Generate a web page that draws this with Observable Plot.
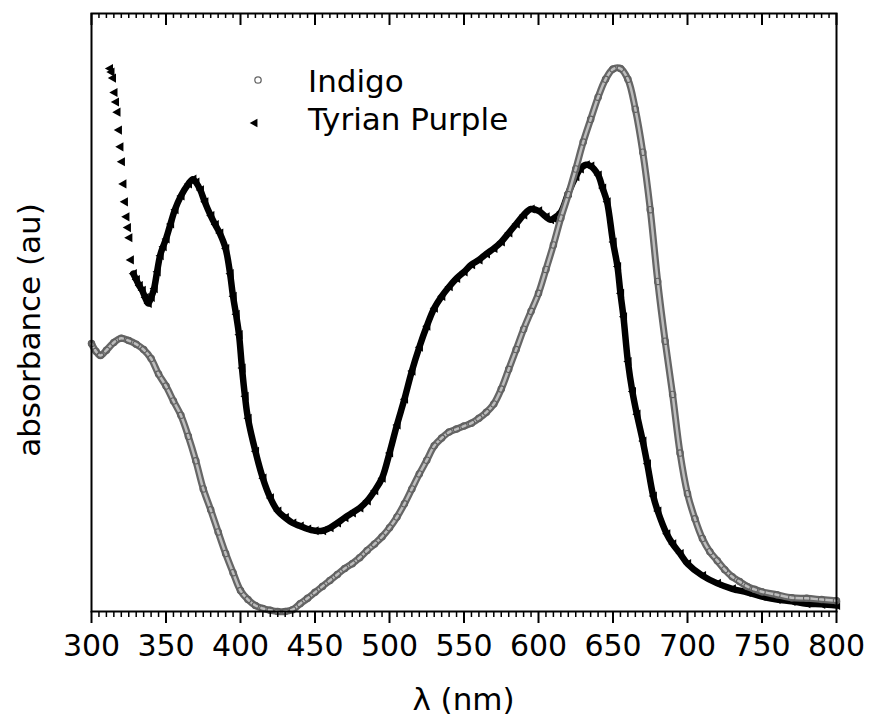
<!DOCTYPE html>
<html><head><meta charset="utf-8">
<script src="https://cdn.jsdelivr.net/npm/d3@7"></script>
<script src="https://cdn.jsdelivr.net/npm/@observablehq/plot@0.6"></script>
<style>body{margin:0;background:#fff}</style>
</head><body><div id="chart"></div>
<script>
// ---- data (absorbance in arbitrary units) ----
const indigoNm = [300,303,306,310,315,320,325,330,335,340,345,350,355,360,365,370,375,380,385,390,395,400,405,410,415,420,425,430,435,440,445,450,455,460,465,470,475,480,485,490,495,500,505,510,515,520,525,530,535,540,545,550,555,560,565,570,575,580,585,590,595,600,605,610,615,620,625,630,635,640,645,650,655,660,665,670,675,680,685,690,695,700,705,710,715,720,725,730,735,740,745,750,760,770,780,790,800];
const indigoAbs = [0.448,0.435,0.428,0.437,0.450,0.457,0.453,0.447,0.438,0.423,0.397,0.377,0.352,0.328,0.293,0.252,0.205,0.170,0.133,0.097,0.065,0.035,0.020,0.010,0.005,0.002,0.000,0.000,0.003,0.013,0.022,0.032,0.042,0.052,0.062,0.072,0.080,0.090,0.102,0.113,0.125,0.140,0.158,0.180,0.205,0.230,0.253,0.277,0.290,0.300,0.305,0.310,0.315,0.323,0.333,0.347,0.372,0.405,0.438,0.472,0.502,0.532,0.572,0.613,0.658,0.697,0.740,0.785,0.823,0.860,0.890,0.907,0.908,0.890,0.840,0.768,0.672,0.552,0.452,0.363,0.265,0.197,0.155,0.122,0.100,0.085,0.070,0.058,0.050,0.042,0.037,0.033,0.028,0.023,0.022,0.020,0.018];

const tyrianNm = [312,313,314,315,316,317,318,319,320,321,322,323,324,325,326,328,330,332,334,336,338,340,342,344,346,348,350,353,356,360,365,368,370,373,376,380,383,386,390,393,395,397,399,401,403,405,410,415,420,425,430,435,440,445,450,455,460,465,470,475,480,485,490,495,500,505,510,515,520,525,530,535,540,545,550,555,560,565,570,575,580,585,590,595,600,605,608,610,615,620,625,628,632,635,640,643,646,650,653,655,657,660,663,666,670,673,677,680,686,690,695,700,710,720,730,740,750,760,770,780,790,800];
const tyrianAbs = [0.908,0.902,0.892,0.868,0.852,0.835,0.805,0.777,0.752,0.715,0.685,0.660,0.642,0.625,0.588,0.565,0.555,0.545,0.537,0.525,0.515,0.525,0.540,0.568,0.595,0.610,0.623,0.648,0.672,0.695,0.715,0.723,0.718,0.705,0.685,0.662,0.647,0.633,0.607,0.565,0.527,0.497,0.463,0.407,0.360,0.323,0.268,0.223,0.190,0.168,0.157,0.148,0.143,0.138,0.135,0.135,0.140,0.148,0.157,0.165,0.173,0.185,0.202,0.223,0.265,0.312,0.355,0.402,0.442,0.477,0.507,0.527,0.543,0.557,0.568,0.580,0.588,0.598,0.607,0.618,0.633,0.648,0.663,0.673,0.670,0.660,0.655,0.657,0.668,0.700,0.727,0.740,0.747,0.745,0.730,0.708,0.685,0.618,0.577,0.532,0.493,0.418,0.368,0.330,0.285,0.247,0.193,0.168,0.130,0.113,0.097,0.080,0.060,0.047,0.038,0.032,0.025,0.020,0.017,0.013,0.012,0.010];

const xTicks = [300,350,400,450,500,550,600,650,700,750,800];
const minorTicks = [305,310,315,320,325,330,335,340,345,355,360,365,370,375,380,385,390,395,405,410,415,420,425,430,435,440,445,455,460,465,470,475,480,485,490,495,505,510,515,520,525,530,535,540,545,555,560,565,570,575,580,585,590,595,605,610,615,620,625,630,635,640,645,655,660,665,670,675,680,685,690,695,705,710,715,720,725,730,735,740,745,755,760,765,770,775,780,785,790,795];
const seriesNames = ["Indigo", "Tyrian Purple"];
const xLabel = "λ (nm)";
const yLabel = "absorbance (au)";

// ---- build tables ----
const indigo = indigoNm.map((x, i) => ({x, y: indigoAbs[i]}));
const tyrian = tyrianNm.map((x, i) => ({x, y: tyrianAbs[i]}));

const triLeft = {draw(ctx, size) {
  const r = Math.sqrt(size / Math.PI) * 1.2;
  ctx.moveTo(-r, 0); ctx.lineTo(r * 0.8, -r); ctx.lineTo(r * 0.8, r); ctx.closePath();
}};

const W = 869, H = 726, mT = 13, mB = 115;
const frameH = H - mT - mB;

const plot = Plot.plot({
  width: W, height: H,
  marginLeft: 91, marginRight: 33, marginTop: mT, marginBottom: mB,
  style: {fontFamily: "DejaVu Sans", fontSize: "30px", background: "#fff", color: "#000", overflow: "visible"},
  x: {domain: [300, 800], ticks: xTicks, tickSize: 0, tickPadding: 23, tickFormat: d => String(d), label: null},
  y: {domain: [0, 1], axis: null},
  marks: [
    Plot.line(tyrian.filter(d => d.x >= 328), {x: "x", y: "y", stroke: "#000", strokeWidth: 6.5, curve: "catmull-rom"}),
    Plot.dot(tyrian, {x: "x", y: "y", r: 3.8, symbol: triLeft, fill: "#000", stroke: "none"}),
    Plot.line(indigo, {x: "x", y: "y", stroke: "#666", strokeWidth: 7, curve: "catmull-rom"}),
    Plot.line(indigo, {x: "x", y: "y", stroke: "#bdbdbd", strokeWidth: 2.5, curve: "catmull-rom"}),
    Plot.dot(indigo, {x: "x", y: "y", r: 3.2, stroke: "#606060", strokeWidth: 1.1, fill: "none"}),
    // bottom ticks (outward) and top ticks (inward)
    Plot.tickX(xTicks, {x: d => d, stroke: "#000", strokeWidth: 2, insetTop: frameH, insetBottom: -12}),
    Plot.tickX(minorTicks, {x: d => d, stroke: "#000", strokeWidth: 1.5, insetTop: frameH, insetBottom: -6}),
    Plot.tickX(xTicks, {x: d => d, stroke: "#000", strokeWidth: 2, insetBottom: frameH - 12}),
    Plot.tickX(minorTicks, {x: d => d, stroke: "#000", strokeWidth: 1.5, insetBottom: frameH - 5}),
    Plot.frame({stroke: "#000", strokeWidth: 2})
  ]
});
document.getElementById("chart").appendChild(plot);

const xs = plot.scale("x"), ys = plot.scale("y");
const svg = d3.select(plot);
const y0 = ys.apply(0), y1 = ys.apply(1);

// ---- axis labels ----
svg.append("text").attr("x", (xs.apply(300) + xs.apply(800)) / 2).attr("y", 710)
  .attr("text-anchor", "middle").attr("font-family", "DejaVu Sans").attr("font-size", 31).attr("fill", "#000").text(xLabel);
svg.append("text").attr("transform", `translate(40,${(y0 + y1) / 2 + 18}) rotate(-90)`)
  .attr("text-anchor", "middle").attr("font-family", "DejaVu Sans").attr("font-size", 31).attr("fill", "#000").text(yLabel);

// ---- legend ----
const lg = svg.append("g").attr("font-family", "DejaVu Sans").attr("font-size", 31).attr("fill", "#000").attr("text-anchor", "start");
lg.append("circle").attr("cx", 258).attr("cy", 80).attr("r", 3.2).attr("fill", "none").attr("stroke", "#666").attr("stroke-width", 1.3);
lg.append("text").attr("x", 308).attr("y", 92).attr("text-anchor", "start").text(seriesNames[0]);
lg.append("path").attr("transform", "translate(254,123)").attr("d", d3.symbol(triLeft, Math.PI * 3.6 * 3.6)()).attr("fill", "#000");
lg.append("text").attr("x", 308).attr("y", 130).attr("text-anchor", "start").text(seriesNames[1]);
</script>
</body></html>
